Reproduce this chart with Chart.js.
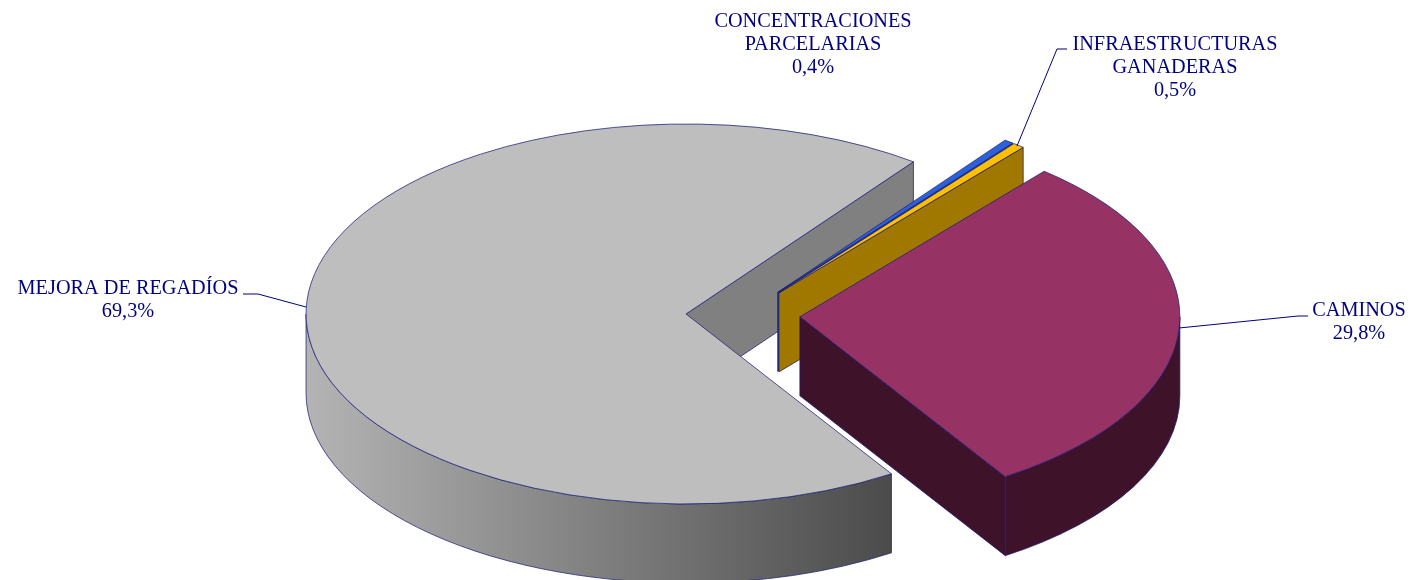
<!DOCTYPE html>
<html lang="es">
<head>
<meta charset="utf-8">
<title>Inversiones por tipo de actuación</title>
<script src="https://cdn.jsdelivr.net/npm/chart.js@4"></script>
<style>
  html, body { margin: 0; padding: 0; background: #fff; }
  #wrap { width: 1412px; height: 580px; }
</style>
</head>
<body>
<div id="wrap"><canvas id="tarta"></canvas></div>
<script>
// Datos
const categorias = ['CAMINOS', 'MEJORA DE REGADÍOS', 'CONCENTRACIONES PARCELARIAS', 'INFRAESTRUCTURAS GANADERAS'];
const valores = [29.8, 69.3, 0.4, 0.5];
const etiquetas = ['29,8%', '69,3%', '0,4%', '0,5%'];
const coloresCara = ['#963264', '#bebebe', '#2b62dc', '#ffc000'];
const coloresCorte = ['#3e1228', '#808080', '#1c3f90', '#a07800'];
const coloresPared = [['#3e1228', '#3e1228'], ['#b4b4b4', '#4b4b4b'], ['#1c3f90', '#1c3f90'], ['#a07800', '#a07800']];

// Perspectiva
const APLASTADO = 0.5;
const GROSOR = 79;
const SEPARACION = 57;
const ORDEN = [1, 2, 3, 0]; // de atrás hacia delante
const BORDE = 'rgba(30,30,120,0.75)';
const TINTA = '#000080';

// Texto y líneas guía de cada porción
const rotulos = [
  { lineas: ['CAMINOS'], x: 1359, y: 311, guia: [[1179, 328], [1298, 316], [1308, 316]] },
  { lineas: ['MEJORA DE REGADÍOS'], x: 128, y: 289, guia: [[306, 307], [258, 294], [243, 294]] },
  { lineas: ['CONCENTRACIONES', 'PARCELARIAS'], x: 813, y: 22, guia: null },
  { lineas: ['INFRAESTRUCTURAS', 'GANADERAS'], x: 1175, y: 45, guia: [[1017, 146], [1057, 49], [1067, 49]] }
];

/* Centro de la porción ya separada y aplastada */
function centroPorcion(arco) {
  const medio = (arco.startAngle + arco.endAngle) / 2;
  return {
    x: arco.x + Math.cos(medio) * SEPARACION,
    y: arco.y + Math.sin(medio) * SEPARACION * APLASTADO
  };
}

function puntoBorde(c, r, ang) {
  return { x: c.x + Math.cos(ang) * r, y: c.y + Math.sin(ang) * r * APLASTADO };
}

/* Pared radial de un corte */
function dibujarCorte(ctx, c, r, ang, color) {
  const p = puntoBorde(c, r, ang);
  ctx.beginPath();
  ctx.moveTo(c.x, c.y);
  ctx.lineTo(p.x, p.y);
  ctx.lineTo(p.x, p.y + GROSOR);
  ctx.lineTo(c.x, c.y + GROSOR);
  ctx.closePath();
  ctx.fillStyle = color;
  ctx.fill();
  ctx.stroke();
}

/* Pared curva exterior, solo la parte que mira al frente */
function dibujarPared(ctx, c, r, ini, fin, colores) {
  const desde = Math.max(ini, 0);
  const hasta = Math.min(fin, Math.PI);
  if (desde >= hasta) return;
  const a = puntoBorde(c, r, desde);
  const b = puntoBorde(c, r, hasta);
  const grad = ctx.createLinearGradient(Math.min(a.x, b.x), 0, Math.max(a.x, b.x), 0);
  grad.addColorStop(0, colores[0]);
  grad.addColorStop(1, colores[1]);
  // el degradado va de izquierda a derecha
  ctx.beginPath();
  ctx.ellipse(c.x, c.y, r, r * APLASTADO, 0, desde, hasta);
  ctx.lineTo(b.x, b.y + GROSOR);
  ctx.ellipse(c.x, c.y + GROSOR, r, r * APLASTADO, 0, hasta, desde, true);
  ctx.closePath();
  ctx.fillStyle = grad;
  ctx.fill();
  ctx.stroke();
}

const tarta3d = {
  id: 'tarta3d',
  beforeDatasetsDraw(chart) {
    const ctx = chart.ctx;
    const arcos = chart.getDatasetMeta(0).data;
    ctx.save();
    ctx.lineWidth = 1;
    ctx.strokeStyle = BORDE;
    ORDEN.forEach(i => {
      const arco = arcos[i];
      const c = centroPorcion(arco);
      const r = arco.outerRadius;
      const ini = arco.startAngle;
      const fin = arco.endAngle;

      if (Math.cos(ini) < 0) dibujarCorte(ctx, c, r, ini, coloresCorte[i]);
      if (Math.cos(fin) > 0) dibujarCorte(ctx, c, r, fin, coloresCorte[i]);
      dibujarPared(ctx, c, r, ini, fin, coloresPared[i]);

      // La cara superior la pinta el propio ArcElement
      ctx.save();
      ctx.translate(c.x, c.y);
      ctx.scale(1, APLASTADO);
      ctx.translate(-arco.x, -arco.y);
      arco.draw(ctx);
      ctx.restore();

      ctx.beginPath();
      ctx.moveTo(c.x, c.y);
      ctx.ellipse(c.x, c.y, r, r * APLASTADO, 0, ini, fin);
      ctx.closePath();
      ctx.stroke();
    });
    ctx.restore();
    return false; // ya está todo dibujado
  },
  afterDraw(chart) {
    const ctx = chart.ctx;
    ctx.save();
    ctx.font = '20.3px "Liberation Serif"';
    ctx.textAlign = 'center';
    ctx.textBaseline = 'middle';
    ctx.fillStyle = TINTA;
    ctx.strokeStyle = TINTA;
    ctx.lineWidth = 1;
    rotulos.forEach((rot, i) => {
      rot.lineas.concat(etiquetas[i]).forEach((txt, n) => {
        ctx.fillText(txt, rot.x, rot.y + n * 23);
      });
      if (!rot.guia) return;
      ctx.beginPath();
      rot.guia.forEach((p, n) => n ? ctx.lineTo(p[0], p[1]) : ctx.moveTo(p[0], p[1]));
      ctx.stroke();
    });
    ctx.restore();
  }
};

new Chart(document.getElementById('tarta'), {
  type: 'pie',
  data: {
    labels: categorias,
    datasets: [{
      data: valores,
      backgroundColor: coloresCara,
      borderWidth: 0
    }]
  },
  options: {
    responsive: true,
    maintainAspectRatio: false,
    animation: false,
    rotation: 40,
    radius: 380,
    layout: { padding: { left: 74, top: 50 } },
    plugins: {
      legend: { display: false },
      tooltip: { enabled: false }
    }
  },
  plugins: [tarta3d]
});
</script>
</body>
</html>
